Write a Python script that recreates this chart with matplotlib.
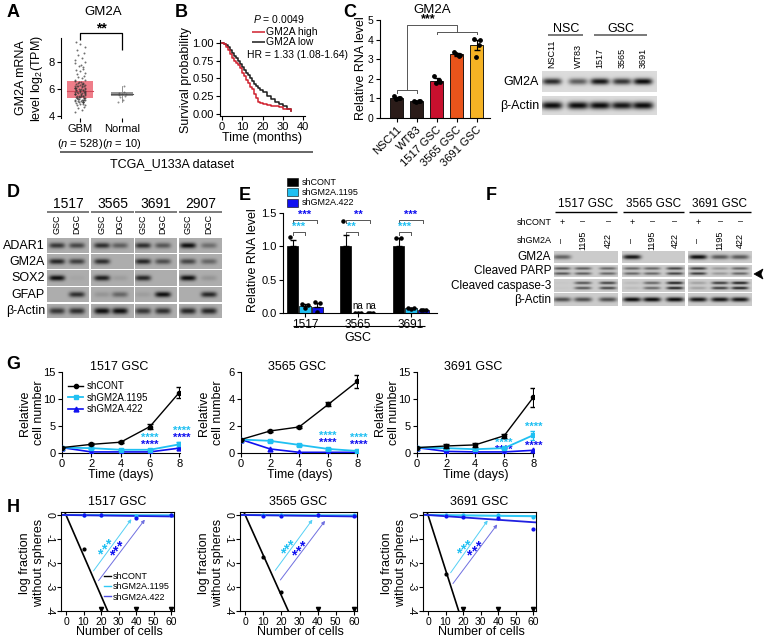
import numpy as np
import matplotlib
matplotlib.use('Agg')
import matplotlib.pyplot as plt
from matplotlib.patches import Rectangle, Polygon
from matplotlib.lines import Line2D

plt.rcParams['font.family'] = ['Liberation Sans', 'DejaVu Sans']
plt.rcParams['mathtext.fontset'] = 'custom'
plt.rcParams['mathtext.rm'] = 'Liberation Sans'
plt.rcParams['mathtext.it'] = 'Liberation Sans:italic'
plt.rcParams['axes.linewidth'] = 0.8
plt.rcParams['xtick.major.width'] = 0.8
plt.rcParams['ytick.major.width'] = 0.8
plt.rcParams['xtick.major.size'] = 3
plt.rcParams['ytick.major.size'] = 3
plt.rcParams['xtick.major.pad'] = 1.5
plt.rcParams['ytick.major.pad'] = 1.5

# ======================= DATA =======================
# A: GM2A expression (TCGA)
gbm_expr = [4.3, 4.45, 4.6, 4.7, 4.8, 4.85, 4.9, 4.95, 5.0, 5.0, 5.05, 5.1, 5.1, 5.15, 5.2,
            5.2, 5.25, 5.3, 5.3, 5.35, 5.4, 5.4, 5.45, 5.5, 5.5, 5.55, 5.6, 5.6, 5.65, 5.7,
            5.7, 5.75, 5.8, 5.8, 5.85, 5.9, 5.9, 5.95, 6.0, 6.0, 6.05, 6.1, 6.1, 6.15, 6.2,
            6.2, 6.25, 6.3, 6.3, 6.35, 6.4, 6.45, 6.5, 6.55, 6.6, 6.65, 6.7, 6.8, 6.9, 7.0,
            7.1, 7.2, 7.3, 7.4, 7.5, 7.6, 7.7, 7.8, 7.9, 8.0, 8.15, 8.3, 8.5, 8.7, 8.9,
            9.1, 9.3, 9.5, 5.0, 5.2, 5.4, 5.6, 5.8, 6.0, 6.2, 6.4, 5.1, 5.3, 5.5, 5.7, 5.9, 6.1,
            4.9, 5.05, 5.25, 5.45, 5.65, 5.85, 6.05, 6.25, 6.45, 5.15, 5.35, 5.55, 5.75, 5.95]
normal_expr = [5.0, 5.2, 5.4, 5.5, 5.55, 5.6, 5.65, 5.7, 5.8, 6.2]
gbm_box = [5.3, 5.85, 6.6]       # q1, median, q3
normal_box = [5.45, 5.6, 5.75]
a_groups = ['GBM\n($\\it{n}$ = 528)', 'Normal\n($\\it{n}$ = 10)']

# B: Kaplan-Meier
km_time = [0, 1, 2, 3, 4, 5, 6, 7, 8, 9, 10, 11, 12, 13, 14, 15, 16, 17, 18, 19,
           20, 22, 24, 26, 28, 30, 32, 34]
km_surv_high = [1.0, 0.98, 0.94, 0.9, 0.84, 0.79, 0.75, 0.71, 0.68, 0.64, 0.58, 0.53,
                0.48, 0.43, 0.38, 0.34, 0.28, 0.22, 0.17, 0.15, 0.13, 0.12, 0.11, 0.1,
                0.09, 0.07, 0.06, 0.04]
km_surv_low = [1.0, 0.99, 0.97, 0.94, 0.9, 0.86, 0.82, 0.78, 0.74, 0.7, 0.66, 0.62,
               0.58, 0.54, 0.5, 0.46, 0.42, 0.39, 0.36, 0.33, 0.3, 0.25, 0.2, 0.16,
               0.13, 0.1, 0.07, 0.04]

# C: GM2A RNA
c_labels = ['NSC11', 'WT83', '1517 GSC', '3565 GSC', '3691 GSC']
c_means = [1.02, 0.86, 1.9, 3.25, 3.72]
c_sem = [0.06, 0.03, 0.12, 0.07, 0.25]
c_points = [[1.12, 1.0, 0.96, 1.04], [0.85, 0.88, 0.83, 0.87], [2.15, 1.85, 1.78, 1.92],
            [3.35, 3.22, 3.28, 3.18], [4.05, 3.98, 3.1, 3.75]]
c_colors = ['#2b1c19', '#2b1c19', '#c8102e', '#e9541b', '#f5b324']
# C blot
c_lanes = ['NSC11', 'WT83', '1517', '3565', '3691']
c_gm2a_band = [0.85, 0.6, 0.95, 0.8, 1.0]
c_actin_band = [1.0, 1.0, 1.0, 0.95, 1.0]

# D blot
d_lines = ['1517', '3565', '3691', '2907']
d_rows = ['ADAR1', 'GM2A', 'SOX2', 'GFAP', 'β-Actin']
d_bands = [[0.75, 0.65, 0.8, 0.5, 0.8, 0.55, 1.0, 0.4],
           [0.85, 0.7, 0.8, 0.0, 0.85, 0.6, 0.65, 0.45],
           [1.0, 0.05, 0.9, 0.1, 0.85, 0.0, 1.0, 0.15],
           [0.0, 0.8, 0.15, 0.45, 0.1, 1.0, 0.0, 0.85],
           [0.75, 0.8, 1.0, 1.0, 0.75, 0.8, 0.85, 0.85]]

# E: knockdown RNA
e_groups = ['1517', '3565', '3691']
e_series = ['shCONT', 'shGM2A.1195', 'shGM2A.422']
e_cont = [1.0, 1.0, 1.0]
e_1195 = [0.1, 0.005, 0.07]
e_422 = [0.09, 0.005, 0.05]
e_err_cont = [0.1, 0.17, 0.12]
e_err_1195 = [0.03, 0.0, 0.01]
e_err_422 = [0.06, 0.0, 0.01]
e_pts_cont = [[1.14, 0.95, 0.91], [1.38, 0.85, 0.8], [1.13, 1.12, 0.8]]
e_pts_1195 = [[0.13, 0.12, 0.07], [0.0, 0.0, 0.0], [0.08, 0.07, 0.06]]
e_pts_422 = [[0.17, 0.15, 0.02], [0.0, 0.0, 0.0], [0.05, 0.05, 0.04]]

# F blot
f_lines = ['1517 GSC', '3565 GSC', '3691 GSC']
f_rows = ['GM2A', 'Cleaved PARP', 'Cleaved caspase-3', 'β-Actin']
f_shcont = ['+', '–', '–']
f_shgm2a = ['–', '1195', '422']
f_gm2a = [0.55, 0.0, 0.0, 0.95, 0.0, 0.0, 1.0, 0.6, 0.6]
f_parp = [0.7, 0.65, 0.6, 0.6, 0.6, 0.8, 0.85, 0.3, 0.6]
f_casp = [0.03, 0.7, 0.8, 0.1, 0.6, 1.0, 0.25, 0.85, 1.0]
f_actin = [0.65, 0.65, 0.65, 1.0, 1.0, 1.0, 0.95, 0.95, 0.95]

# G: growth curves
g_days = [0, 2, 4, 6, 8]
g_titles = ['1517 GSC', '3565 GSC', '3691 GSC']
g_cont = [[1.0, 1.6, 2.0, 4.9, 11.2], [1.0, 1.63, 1.93, 3.6, 5.3], [1.0, 1.3, 1.5, 3.2, 10.3]]
g_cont_err = [[0.1, 0.2, 0.2, 0.4, 1.0], [0.05, 0.08, 0.08, 0.15, 0.45], [0.1, 0.3, 0.3, 0.4, 1.7]]
g_1195 = [[1.0, 0.9, 0.6, 0.6, 1.6], [1.0, 0.9, 0.6, 0.3, 0.15], [1.0, 0.9, 0.7, 0.9, 3.3]]
g_1195_err = [[0.05, 0.1, 0.1, 0.1, 0.4], [0.03, 0.05, 0.05, 0.05, 0.05], [0.05, 0.1, 0.1, 0.2, 0.8]]
g_422 = [[1.0, 0.2, 0.2, 0.2, 0.9], [1.0, 0.3, 0.05, 0.05, 0.05], [1.0, 0.3, 0.2, 0.2, 0.5]]
g_ylims = [15, 6, 15]
g_yticks = [[0, 5, 10, 15], [0, 2, 4, 6], [0, 5, 10, 15]]
g_star_1195 = [[(6, 2.8), (8.2, 4.1)], [(6, 1.26), (8.1, 1.1)], [(6, 1.9), (8, 4.8)]]
g_star_422 = [[(6, 1.5), (8.2, 2.8)], [(6, 0.74), (8.1, 0.6)], [(6, 0.6), (8, 1.3)]]

# H: limiting dilution
h_titles = ['1517 GSC', '3565 GSC', '3691 GSC']
h_cells = [10, 20, 40, 60]
h_cont = [[-1.4, -4.0, -4.0, -4.0], [-1.75, -3.2, -4.0, -4.0], [-2.45, -4.0, -4.0, -4.0]]
h_cont_censored = [[False, True, True, True], [False, False, True, True], [False, True, True, True]]
h_1195 = [[0.0, 0.0, -0.03, 0.0], [0.0, 0.0, 0.0, -0.02], [0.0, 0.0, 0.0, -0.1]]
h_422 = [[-0.02, -0.02, -0.12, -0.02], [-0.03, -0.03, -0.01, -0.05], [-0.05, -0.08, -0.12, -0.6]]
h_slope_cont = [-0.168, -0.168, -0.228]
h_slope_1195 = [-0.0002, -0.0003, -0.0008]
h_slope_422 = [-0.001, -0.001, -0.005]
h_ci_1195 = [[(14.8, -2.42), (38.3, -0.08)], [(15.7, -2.4), (38, -0.1)], [(12, -2.5), (35, -0.13)]]
h_ci_422 = [[(17.6, -2.83), (46, -0.1)], [(18.5, -2.8), (45, -0.15)], [(13.3, -2.95), (40.5, -0.3)]]
h_star_1195 = [[(19.4, -1.63), (21.7, -1.45), (24, -1.24)], [(20.6, -1.6), (22.5, -1.45), (24.7, -1.25)],
               [(17.3, -1.6), (19.6, -1.42), (22, -1.25)]]
h_star_422 = [[(26.1, -1.7), (28, -1.52), (30.3, -1.3)], [(26.8, -1.67), (29, -1.5), (31.3, -1.3)],
              [(23, -1.7), (26, -1.5), (28.3, -1.32)]]

# colours
CYAN = '#20c0f2'
BLUE = '#1010f0'
BLUE_T = '#6f6fe0'

# ======================= FIGURE =======================
W, H = 764, 644
fig = plt.figure(figsize=(W / 100, H / 100), dpi=100)


def add_ax(l, t, r, b):
    return fig.add_axes([l / W, 1 - b / H, (r - l) / W, (b - t) / H])


ov = fig.add_axes([0, 0, 1, 1], zorder=10)
ov.set_autoscale_on(False)
ov.set_xlim(0, W)
ov.set_ylim(H, 0)
ov.axis('off')


def T(x, y, s, size=8.5, **kw):
    kw.setdefault('ha', 'center')
    kw.setdefault('va', 'center')
    ov.text(x, y, s, fontsize=size, **kw)


def L(xs, ys, color='black', lw=0.8, **kw):
    ov.plot(xs, ys, color=color, lw=lw, solid_capstyle='butt', **kw)


def blot(x0, x1, y0, y1, lanes, inten, bg=0.82, bw=17, bh=None, sep=None, dark=0.95):
    sc = 4
    nx = max(int((x1 - x0) * sc), 2)
    ny = max(int((y1 - y0) * sc), 2)
    X, Y = np.meshgrid(np.linspace(x0, x1, nx), np.linspace(y0, y1, ny))
    img = np.full(X.shape, bg)
    h = y1 - y0
    if bh is None:
        bh = h * 0.2
    yc = (y0 + y1) / 2
    cents = [yc] if sep is None else [yc - sep, yc + sep]
    for lx, a in zip(lanes, inten):
        for c in cents:
            prof = np.exp(-np.abs((X - lx) / (bw / 2)) ** 4) * np.exp(-((Y - c) / bh) ** 2)
            img = img * (1 - dark * a * prof)
    ov.imshow(img, extent=(x0, x1, y1, y0), cmap='gray', vmin=0, vmax=1,
              aspect='auto', interpolation='bilinear', zorder=2)


def style(ax, sides=('left', 'bottom')):
    for s in ['left', 'right', 'top', 'bottom']:
        ax.spines[s].set_visible(s in sides)
    ax.tick_params(labelsize=8)
    ax.patch.set_alpha(0)


# panel letters
for lab, (x, y) in {'A': (13, 12), 'B': (181, 12), 'C': (350, 12), 'D': (13, 192),
                    'E': (245, 195), 'F': (491, 195), 'G': (13, 364), 'H': (13, 508)}.items():
    T(x, y, lab, size=13, weight='bold')

# ---------------- A ----------------
axA = add_ax(61, 38, 143, 118)
style(axA, ('left',))
axA.set_xlim(-0.45, 1.5)
axA.set_ylim(3.85, 9.78)
axA.set_yticks([4, 6, 8])
axA.set_xticks([0, 1])
axA.set_xticklabels(a_groups, fontsize=8, linespacing=1.25)
for vals, box, xc, wdt, fc, ec in [(gbm_expr, gbm_box, 0, 0.6, '#ee6f7c', '#d04a5a'),
                                   (normal_expr, normal_box, 1, 0.52, '#8a8a8a', '#555555')]:
    axA.add_patch(Rectangle((xc - wdt / 2, box[0]), wdt, box[2] - box[0], fc=fc, ec='none', alpha=0.9, zorder=1))
    axA.plot([xc - wdt / 2, xc + wdt / 2], [box[1]] * 2, color=ec, lw=0.8, zorder=2)
jit = [-0.14, 0.05, -0.06, 0.12, -0.1, 0.15, 0.0, -0.12, 0.08, 0.1, -0.02, 0.03, -0.16, 0.14]
gx = [jit[i % len(jit)] * 0.8 for i in range(len(gbm_expr))]
axA.scatter(gx, gbm_expr, s=2, c='#333333', alpha=0.7, lw=0, zorder=3)
nx_ = [1 + 0.6 * jit[i % len(jit)] for i in range(len(normal_expr))]
axA.scatter(nx_, normal_expr, s=2, c='#444444', alpha=0.6, lw=0, zorder=3)
axA.plot([1, 1], [min(normal_expr), max(normal_expr)], color='#666666', lw=0.5, zorder=0)
T(103, 12, 'GM2A', size=9.5)
L([80, 80, 122, 122], [40, 33, 33, 50], lw=0.9)
T(101, 28, '**', size=10, weight='bold')
T(30, 78, 'GM2A mRNA\nlevel log$_2$(TPM)', size=9, rotation=90, linespacing=1.25)
L([60, 313], [152, 152], color='#666666', lw=1.4)
T(172, 164, 'TCGA_U133A dataset', size=9)

# ---------------- B ----------------
axB = add_ax(220, 40, 305, 116)
style(axB)
axB.step(km_time, km_surv_low, where='post', color='#1a1a1a', lw=1.1)
axB.step(km_time, km_surv_high, where='post', color='#d0202e', lw=1.1)
axB.set_xlim(-1, 41)
axB.set_ylim(-0.035, 1.04)
axB.set_xticks([0, 10, 20, 30, 40])
axB.set_yticks([0, 0.25, 0.5, 0.75, 1.0])
axB.set_yticklabels(['0.00', '0.25', '0.50', '0.75', '1.00'])
T(186, 80, 'Survival probability', size=9, rotation=90)
T(262, 138, 'Time (months)', size=9)
T(253, 19, '$\\it{P}$ = 0.0049', size=7.5, ha='left')
L([252, 265], [32, 32], color='#d0202e', lw=1.1)
T(266, 32, 'GM2A high', size=7.5, ha='left')
L([252, 265], [42, 42], color='#1a1a1a', lw=1.1)
T(266, 42, 'GM2A low', size=7.5, ha='left')
T(247, 55, 'HR = 1.33 (1.08-1.64)', size=7.5, ha='left')

# ---------------- C ----------------
axC = add_ax(380, 20, 490, 118)
style(axC)
axC.tick_params(labelsize=7.5)
xc = np.arange(len(c_labels))
axC.bar(xc, c_means, width=0.65, color=c_colors, edgecolor='black', lw=0.6, zorder=2)
axC.errorbar(xc, c_means, yerr=c_sem, fmt='none', ecolor='black', elinewidth=0.8, capsize=2.5, zorder=3)
for i, pts in enumerate(c_points):
    axC.scatter([i - 0.15, i + 0.15, i - 0.05, i + 0.1][:len(pts)], pts, s=6, c='black', zorder=4)
axC.set_xlim(-0.825, 4.675)
axC.set_ylim(0, 5)
axC.set_yticks([0, 1, 2, 3, 4, 5])
axC.set_xticks(xc)
axC.set_xticklabels(c_labels, rotation=45, ha='right', rotation_mode='anchor', fontsize=8)
axC.plot([0, 0, 1, 1], [1.3, 1.42, 1.42, 1.3], color='#555555', lw=0.7)
axC.plot([2, 2, 4, 4], [4.28, 4.4, 4.4, 4.28], color='#555555', lw=0.7)
axC.plot([0.5, 0.5, 3, 3], [1.42, 4.72, 4.72, 4.4], color='#555555', lw=0.7)
axC.text(1.6, 4.74, '***', ha='center', va='bottom', fontsize=9, weight='bold')
T(432, 10, 'GM2A', size=9.5)
T(361, 68, 'Relative RNA level', size=9, rotation=90)

# C blot
c_lane_x = [552, 578, 600, 622, 643]
T(566, 29, 'NSC', size=9)
L([548, 583], [35, 35], color='#555555', lw=1.1)
T(621, 29, 'GSC', size=9)
L([594, 647], [35, 35], color='#555555', lw=1.1)
for x, s in zip(c_lane_x, c_lanes):
    T(x, 68, s, size=6.5, rotation=90, va='bottom')
blot(542, 657, 71, 92, c_lane_x, c_gm2a_band, bg=0.86, bw=19, bh=3.2)
blot(542, 657, 96, 115, c_lane_x, c_actin_band, bg=0.86, bw=21, bh=3.8)
T(539, 82, 'GM2A', size=9, ha='right')
T(539, 106, 'β-Actin', size=9, ha='right')

# ---------------- D ----------------
d_blocks = [(47, 89), (91, 134), (135, 177), (179, 222)]
d_row_y = [(238, 253), (254, 269), (270, 286), (287, 302), (304, 318)]
d_lane_x = [57, 77, 102, 120, 143, 163, 188, 209]
for k, (b0, b1) in enumerate(d_blocks):
    T((b0 + b1) / 2, 204, d_lines[k], size=10)
    L([b0, b1], [212, 212], color='#666666', lw=1.2)
for j, x in enumerate(d_lane_x):
    T(x, 234, ['GSC', 'DGC'][j % 2], size=6.5, rotation=90, va='bottom')
for r, (y0, y1) in enumerate(d_row_y):
    for k, (b0, b1) in enumerate(d_blocks):
        blot(b0, b1, y0, y1, d_lane_x[2 * k:2 * k + 2], d_bands[r][2 * k:2 * k + 2],
             bg=0.68, bw=16, bh=2.8 if r != 4 else 3.2, dark=0.92)
    T(45, (y0 + y1) / 2, d_rows[r], size=9, ha='right')

# ---------------- E ----------------
axE = add_ax(283, 213, 437, 313)
style(axE)
xe = np.arange(3)
off = 0.235
bw_e = 0.22
for vals, errs, pts, col, dx in [(e_cont, e_err_cont, e_pts_cont, 'black', -off),
                                 (e_1195, e_err_1195, e_pts_1195, CYAN, 0),
                                 (e_422, e_err_422, e_pts_422, BLUE, off)]:
    axE.bar(xe + dx, vals, width=bw_e, color=col, edgecolor='black', lw=0.5, zorder=2)
    axE.errorbar(xe + dx, vals, yerr=[[0] * 3, errs], fmt='none', ecolor='black', elinewidth=0.8,
                 capsize=2, zorder=3)
    for i in range(3):
        axE.scatter([xe[i] + dx - 0.05, xe[i] + dx + 0.05, xe[i] + dx], pts[i], s=5, c='black', zorder=4)
axE.set_xlim(-0.415, 2.49)
axE.set_ylim(0, 1.5)
axE.set_yticks([0, 0.5, 1.0, 1.5])
axE.set_yticklabels(['0.0', '0.5', '1.0', '1.5'])
axE.set_xticks(xe)
axE.set_xticklabels(e_groups, fontsize=8.5)
e_brk = [('***', '***'), ('**', '**'), ('***', '***')]
for i in range(3):
    y1, y2 = 1.21, 1.39
    axE.plot([i - off, i - off, i, i], [y1 - 0.04, y1, y1, y1 - 0.04], color='#555555', lw=0.7)
    axE.plot([i - off, i - off, i + off, i + off], [y2 - 0.04, y2, y2, y2 - 0.04], color='#555555', lw=0.7)
    axE.text(i - off / 2, y1 + 0.01, e_brk[i][0], color=CYAN, ha='center', va='bottom', fontsize=8,
             weight='bold', clip_on=False)
    axE.text(i, y2 + 0.01, e_brk[i][1], color=BLUE, ha='center', va='bottom', fontsize=8,
             weight='bold', clip_on=False)
    if e_groups[i] == '3565':
        axE.text(i, 0.03, 'na', ha='center', va='bottom', fontsize=7)
        axE.text(i + off, 0.03, 'na', ha='center', va='bottom', fontsize=7)
T(253, 260, 'Relative RNA level', size=9, rotation=90)
L([293, 425], [326, 326], lw=0.8)
T(358, 338, 'GSC', size=9)
for k, (s, col) in enumerate(zip(e_series, ['black', CYAN, BLUE])):
    y = 182 + 10.3 * k
    ov.add_patch(Rectangle((287, y - 4), 11, 8, fc=col, ec='black', lw=0.4, zorder=3))
    T(302, y, s, size=6.5, ha='left')

# ---------------- F ----------------
f_blocks = [(554, 618), (622, 685), (688, 752)]
f_lane_x = [562, 583, 608, 632, 652, 675, 698, 720, 740]
for k, (b0, b1) in enumerate(f_blocks):
    T((b0 + b1) / 2, 204, f_lines[k], size=8.5)
    L([b0 + 1, b1 - 1], [212, 212], lw=1.0)
T(552, 222, 'shCONT', size=6.5, ha='right')
T(552, 240, 'shGM2A', size=6.5, ha='right')
for j, x in enumerate(f_lane_x):
    T(x, 222, f_shcont[j % 3], size=6.5)
    T(x, 240, f_shgm2a[j % 3], size=6.5, rotation=90)
f_row_y = [(251, 263), (265, 277), (279, 292), (293, 306)]
f_data = [f_gm2a, f_parp, f_casp, f_actin]
for r, (y0, y1) in enumerate(f_row_y):
    for k, (b0, b1) in enumerate(f_blocks):
        lanes = f_lane_x[3 * k:3 * k + 3]
        vals = f_data[r][3 * k:3 * k + 3]
        if r in (1, 2):
            blot(b0, b1, y0, y1, lanes, vals, bg=0.8, bw=17, bh=1.4, sep=2.6, dark=0.85)
        else:
            blot(b0, b1, y0, y1, lanes, vals, bg=0.8, bw=18, bh=2.3, dark=0.95)
    T(551, (y0 + y1) / 2, f_rows[r], size=8.5, ha='right')
ov.add_patch(Polygon([[754, 274], [763, 269], [761, 274], [763, 279]], closed=True, fc='black', ec='black', lw=0.5))

# ---------------- G ----------------
g_axes_px = [(62, 180), (241, 358), (417, 534)]
for k, (l, r) in enumerate(g_axes_px):
    ax = add_ax(l, 372, r, 453)
    style(ax)
    ax.errorbar(g_days, g_cont[k], yerr=g_cont_err[k], color='black', marker='o', ms=3, lw=1.0,
                capsize=2.5, elinewidth=0.8, zorder=4)
    ax.errorbar(g_days, g_1195[k], yerr=g_1195_err[k], color=CYAN, marker='s', ms=3, lw=1.3,
                capsize=2.5, elinewidth=0.8, zorder=3)
    ax.plot(g_days, g_422[k], color=BLUE, marker='^', ms=3.5, lw=1.2, zorder=3)
    ax.set_xlim(0, 8.05)
    ax.set_ylim(0, g_ylims[k])
    ax.set_xticks([0, 2, 4, 6, 8])
    ax.set_yticks(g_yticks[k])
    for (x, y) in g_star_1195[k]:
        ax.text(x, y, '****', color=CYAN, ha='center', va='center', fontsize=8, weight='bold', clip_on=False)
    for (x, y) in g_star_422[k]:
        ax.text(x, y, '****', color=BLUE, ha='center', va='center', fontsize=8, weight='bold', clip_on=False)
    T((l + r) / 2 - 2, 367, g_titles[k], size=9)
    T((l + r) / 2, 475, 'Time (days)', size=9)
    T(l - 30, 413, 'Relative\ncell number', size=9, rotation=90, linespacing=1.2)
    if k == 0:
        hs = [Line2D([], [], color='black', marker='o', ms=3, lw=1.0),
              Line2D([], [], color=CYAN, marker='s', ms=3, lw=1.3),
              Line2D([], [], color=BLUE, marker='^', ms=3.5, lw=1.2)]
        ax.legend(hs, e_series, loc='upper left', bbox_to_anchor=(0.0, 0.96), frameon=False, fontsize=7,
                  handlelength=1.6, handletextpad=0.3, labelspacing=0.15, borderaxespad=0.2)

# ---------------- H ----------------
h_axes_px = [(61, 174), (240, 357), (423, 536)]
xx = np.array([-3.0, 62.0])
for k, (l, r) in enumerate(h_axes_px):
    ax = add_ax(l, 512, r, 611)
    style(ax, ('left', 'bottom', 'right', 'top'))
    ax.set_xlim(-2.86, 61.7)
    ax.set_ylim(-4, 0.125)
    ax.plot(xx, h_slope_cont[k] * xx, color='black', lw=1.2)
    ax.plot(xx, h_slope_1195[k] * xx, color='#30c8f5', lw=1.5)
    ax.plot(xx, h_slope_422[k] * xx, color='#2020e0', lw=1.3)
    for (p0, p1), col in [(h_ci_1195[k], '#55d0f5'), (h_ci_422[k], BLUE_T)]:
        ax.annotate('', xy=p1, xytext=p0,
                    arrowprops=dict(arrowstyle='-|>', color=col, lw=0.7, mutation_scale=5))
    for i, cx in enumerate(h_cells):
        if h_cont_censored[k][i]:
            ax.plot(cx, h_cont[k][i] + 0.1, marker='v', color='black', ms=3, clip_on=False)
        else:
            ax.plot(cx, h_cont[k][i], marker='o', color='black', ms=2, clip_on=False)
    ax.plot(h_cells, h_1195[k], 'o', color=CYAN, ms=2, clip_on=False)
    ax.plot(h_cells, h_422[k], 'o', color=BLUE, ms=2, clip_on=False)
    for (x, y) in h_star_1195[k]:
        ax.text(x, y, '*', color=CYAN, ha='center', va='center', fontsize=10, weight='bold')
    for (x, y) in h_star_422[k]:
        ax.text(x, y, '*', color=BLUE, ha='center', va='center', fontsize=10, weight='bold')
    ax.set_xticks([0, 10, 20, 30, 40, 50, 60])
    ax.set_yticks([0, -1, -2, -3, -4])
    ax.set_yticklabels(['0', '-1', '-2', '-3', '-4'], rotation=270, va='center')
    ax.tick_params(labelsize=7.5)
    T((l + r) / 2, 502, h_titles[k], size=9)
    T((l + r) / 2 + 2, 632, 'Number of cells', size=9)
    T(l - 29, 563, 'log fraction\nwithout spheres', size=9, rotation=90, linespacing=1.2)
    if k == 0:
        hs = [Line2D([], [], color='black', lw=1), Line2D([], [], color='#30c8f5', lw=1),
              Line2D([], [], color='#5050e0', lw=1)]
        ax.legend(hs, e_series, loc='lower right',
                  bbox_to_anchor=(1.0, 0.05), frameon=False, fontsize=6.5, handlelength=0.8,
                  handletextpad=0.2, labelspacing=0.15, borderaxespad=0.1)

fig.savefig('out.png', dpi=100)
